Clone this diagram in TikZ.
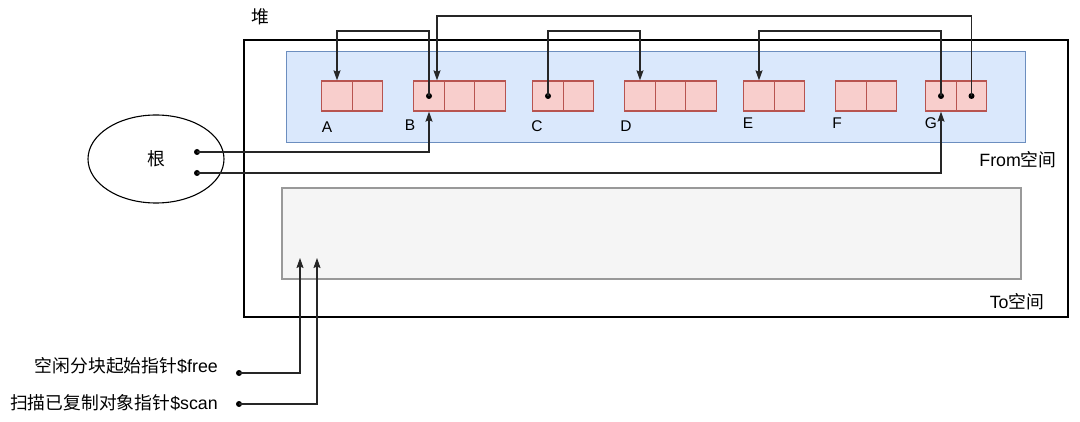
\documentclass[tikz,border=0pt]{standalone}
\usepackage{fontspec}
\setmainfont{Liberation Sans}
\newfontfamily\cjk{Noto Sans CJK SC}
\usetikzlibrary{arrows.meta,shapes.geometric}
\definecolor{fromfill}{HTML}{DAE8FC}
\definecolor{fromline}{HTML}{6C8EBF}
\definecolor{cellfill}{HTML}{F8CECC}
\definecolor{cellline}{HTML}{B85450}
\definecolor{tofill}{HTML}{F5F5F5}
\definecolor{toline}{HTML}{999999}
\tikzset{
  cell/.style={draw=cellline,fill=cellfill,line width=1.3pt,minimum width=30.5pt,minimum height=30pt,inner sep=0pt},
  lab/.style={font=\fontsize{15.5}{18}\selectfont,inner sep=0pt},
  txt/.style={font=\fontsize{17.8}{20}\selectfont,inner sep=0pt},
  arr/.style={draw=black!85,line width=1.1pt,-{Stealth[length=10pt,width=7pt,inset=1.5pt]}},
  dotmark/.style={circle,fill=black,inner sep=0pt,minimum size=6pt}
}
\begin{document}
\begin{tikzpicture}[x=1pt,y=-1pt]
\useasboundingbox (0,0) rectangle (1080,422);
% heap
\node[draw=black,line width=1.3pt,minimum width=824pt,minimum height=277pt,inner sep=0pt] (heap) at (656,178.5) {};
\node[txt] (heaplab) at (260,17) {\cjk 堆};
% from space
\node[draw=fromline,fill=fromfill,line width=1pt,minimum width=739pt,minimum height=91pt,inner sep=0pt] (from) at (655.5,97.5) {};
\node[txt] (fromlab) at (1018,160) {From{\cjk 空间}};
% to space
\node[draw=toline,fill=tofill,line width=1.1pt,minimum width=739pt,minimum height=91pt,inner sep=0pt] (to) at (651.5,233.5) {};
\node[txt] (tolab) at (1017,302) {To{\cjk 空间}};
% cells
\node[cell] (a1) at (337,96) {};
\node[cell] (a2) at (367.5,96) {};
\node[cell] (b1) at (429,96) {};
\node[cell] (b2) at (459.5,96) {};
\node[cell] (b3) at (490,96) {};
\node[cell] (c1) at (548,96) {};
\node[cell] (c2) at (578.5,96) {};
\node[cell] (d1) at (640,96) {};
\node[cell] (d2) at (670.5,96) {};
\node[cell] (d3) at (701,96) {};
\node[cell] (e1) at (759,96) {};
\node[cell] (e2) at (789.5,96) {};
\node[cell] (f1) at (851,96) {};
\node[cell] (f2) at (881.5,96) {};
\node[cell] (g1) at (941,96) {};
\node[cell] (g2) at (971.5,96) {};
% labels
\node[lab] (la) at (327,127) {A};
\node[lab] (lb) at (410,125) {B};
\node[lab] (lc) at (537,126) {C};
\node[lab] (ld) at (626,126) {D};
\node[lab] (le) at (748,123) {E};
\node[lab] (lf) at (837,123) {F};
\node[lab] (lg) at (931,123) {G};
% root
\node[draw=black,line width=1.1pt,ellipse,minimum width=136pt,minimum height=88pt,inner sep=0pt] (root) at (156,159) {};
\node[txt] (rootlab) at (156,159) {\cjk 根};
\node[dotmark] (r1) at (197,152) {};
\node[dotmark] (r2) at (197,173) {};
% dots in cells
\node[dotmark] (db1) at (b1.center) {};
\node[dotmark] (dc1) at (c1.center) {};
\node[dotmark] (dg1) at (g1.center) {};
\node[dotmark] (dg2) at (g2.center) {};
% pointers inside heap
\draw[arr] (db1.center) -- ++(0,-65) -| (a1.north);
\draw[arr] (dg2.center) -- ++(0,-80) -| ([xshift=8pt]b1.north);
\draw[arr] (dg1.center) -- ++(0,-65) -| (e1.north);
\draw[arr] (dc1.center) -- ++(0,-65) -| (d1.north);
% root pointers
\draw[arr] (r1.center) -| (b1.south);
\draw[arr] (r2.center) -| (g1.south);
% free / scan
\node[txt,anchor=east] (freelab) at (218,366) {{\cjk 空闲分块起始指针}\$free};
\node[txt,anchor=east] (scanlab) at (218,403) {{\cjk 扫描已复制对象指针}\$scan};
\node[dotmark] (fdot) at (239,373) {};
\node[dotmark] (sdot) at (239,404) {};
\coordinate (ftip) at (300,258);
\coordinate (stip) at (317,258);
\draw[arr] (fdot.center) -| (ftip);
\draw[arr] (sdot.center) -| (stip);
\end{tikzpicture}
\end{document}
